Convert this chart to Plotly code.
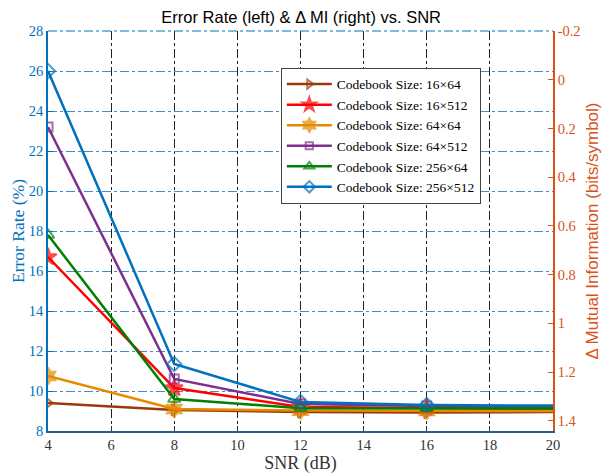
import plotly.graph_objects as go

snr = [4, 8, 12, 16, 20]
labels = ["Codebook Size: 16×64", "Codebook Size: 16×512", "Codebook Size: 64×64",
          "Codebook Size: 64×512", "Codebook Size: 256×64", "Codebook Size: 256×512"]
err_16x64 = [9.4, 9.05, 8.95, 8.92, 8.95]
err_16x512 = [16.7, 10.15, 9.2, 9.15, 9.1]
err_64x64 = [10.75, 9.1, 9.02, 9.0, 9.0]
err_64x512 = [23.2, 10.6, 9.35, 9.25, 9.2]
err_256x64 = [17.8, 9.6, 9.14, 9.12, 9.12]
err_256x512 = [26.0, 11.35, 9.45, 9.3, 9.27]

series = [err_16x64, err_16x512, err_64x64, err_64x512, err_256x64, err_256x512]
colors = ["#9A3A0C", "#FF0000", "#E68A00", "#7E2F8E", "#008000", "#0072BD"]
symbols = ["triangle-right-open", "star", "hexagram", "square-open", "triangle-up-open", "diamond-open"]
sizes = [10, 13, 13, 9, 11, 11]

fig = go.Figure()
for name, ys, c, s, sz in zip(labels, series, colors, symbols, sizes):
    fig.add_trace(go.Scatter(
        x=snr, y=ys, name=name, mode="lines+markers",
        line=dict(color=c, width=2.5),
        marker=dict(symbol=s, size=[sz, sz, sz, sz, 0], color=c, line=dict(color=c, width=2)),
    ))

# invisible trace to activate right axis
fig.add_trace(go.Scatter(x=[4], y=[None], yaxis="y2", showlegend=False, hoverinfo="skip"))

serif = "Liberation Serif"
# page has an 8px body margin, so the figure is 602x466 placed at (8,8)
fig.update_layout(
    width=602, height=466,
    margin=dict(l=40, r=57, t=23, b=43),
    paper_bgcolor="white", plot_bgcolor="white",
    title=dict(text="Error Rate (left) & Δ MI (right) vs. SNR", x=0.487, xanchor="center",
               yref="container", y=0.993, yanchor="top", pad=dict(t=0, b=0),
               font=dict(family="Liberation Sans", size=16.5, color="black")),
    xaxis=dict(range=[4, 20], tickvals=[4, 6, 8, 10, 12, 14, 16, 18, 20],
               ticks="inside", ticklen=5, tickcolor="#333", automargin=False,
               showgrid=True, gridcolor="#222", griddash="dashdot", gridwidth=1,
               showline=True, linecolor="#2a5c94", linewidth=1.5, mirror=False,
               tickfont=dict(family=serif, size=14.5, color="#333"),
               title=dict(text="SNR (dB)", font=dict(family=serif, size=18, color="#333"), standoff=4),
               zeroline=False),
    yaxis=dict(range=[8, 28], tickvals=list(range(8, 29, 2)),
               ticks="inside", ticklen=5, tickcolor="#0072BD", automargin=False,
               showgrid=True, gridcolor="#3a8fd0", griddash="dashdot", gridwidth=1,
               showline=True, linecolor="#0072BD", linewidth=1.5,
               tickfont=dict(family=serif, size=14.5, color="#0072BD"),
               title=dict(text="Error Rate (%)", font=dict(family=serif, size=17.5, color="#0072BD"), standoff=8),
               zeroline=False),
    yaxis2=dict(overlaying="y", side="right", range=[1.442, -0.2],
                tickvals=[-0.2, 0, 0.2, 0.4, 0.6, 0.8, 1, 1.2, 1.4],
                ticktext=["-0.2", "0", "0.2", "0.4", "0.6", "0.8", "1", "1.2", "1.4"],
                ticks="inside", ticklen=5, tickcolor="#D95319", automargin=False,
                showgrid=False, showline=True, linecolor="#D95319", linewidth=1.5,
                tickfont=dict(family=serif, size=14.5, color="#D95319"),
                title=dict(text="Δ Mutual Information (bits/symbol)",
                           font=dict(family="Liberation Sans", size=17, color="#D95319"), standoff=6),
                zeroline=False),
    legend=dict(x=0.461, y=0.908, xanchor="left", yanchor="top",
                bgcolor="white", bordercolor="#444", borderwidth=1,
                font=dict(family=serif, size=13.5, color="black"),
                tracegroupgap=0, itemwidth=45),
    showlegend=True,
)
# top border
fig.add_shape(type="line", xref="paper", yref="paper", x0=0, x1=1, y0=1, y1=1,
              line=dict(color="#0072BD", width=1, dash="dashdot"))

fig.write_html("out.html")
